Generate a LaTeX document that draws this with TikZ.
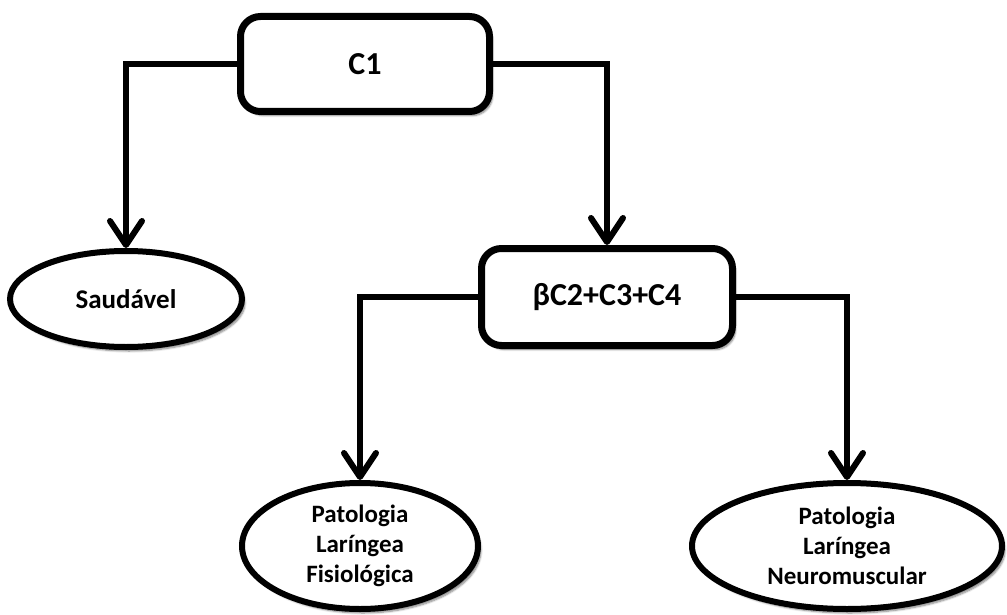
\documentclass[tikz,border=0pt]{standalone}
\usepackage{fontspec}
\setmainfont{Carlito}
\usetikzlibrary{arrows.meta,shapes.geometric,shadows.blur}
\begin{document}
\begin{tikzpicture}[x=1pt,y=-1pt,
  shad/.style={blur shadow={shadow xshift=3pt,shadow yshift=-4pt,shadow blur steps=6,shadow opacity=50}},
  boxnode/.style={draw,line width=7pt,rounded corners=20pt,fill=white,shad,
    minimum width=249pt,minimum height=95pt,font=\bfseries\fontsize{32}{38}\selectfont},
  ellnode/.style={draw,ellipse,line width=6pt,fill=white,shad,inner sep=0pt,align=center,
    font=\bfseries\fontsize{25}{30}\selectfont},
  conn/.style={line width=6pt,line join=miter,
    -{Straight Barb[length=24pt,width=32pt,line cap=round,line join=round]}}]
\useasboundingbox (0,0) rectangle (1007,615);
\node[boxnode] (c1) at (365,64) {C1};
\node[boxnode,minimum width=251pt,minimum height=97pt] (b) at (607,297) {βC2+C3+C4};
\node[ellnode,minimum width=232pt,minimum height=96pt,font=\bfseries\fontsize{27}{32}\selectfont] (s) at (126,299) {Saudável};
\node[ellnode,minimum width=236pt,minimum height=126pt] (e2) at (360,546) {Patologia\\Laríngea\\Fisiológica};
\node[ellnode,minimum width=310pt,minimum height=126pt] (e3) at (847,546) {Patologia\\Laríngea\\Neuromuscular};
\draw[conn] (c1.west) -| (s.north);
\draw[conn] (c1.east) -| (b.north);
\draw[conn] (b.west) -| (e2.north);
\draw[conn] (b.east) -| (e3.north);
\end{tikzpicture}
\end{document}
